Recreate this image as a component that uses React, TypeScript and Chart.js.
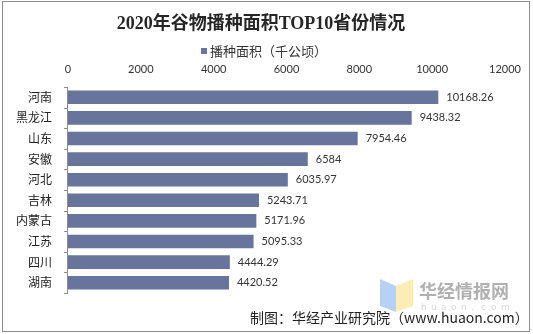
import React, { useEffect, useRef } from "react";
import { Chart, registerables } from "chart.js";

Chart.register(...registerables);

const TITLE = "2020年谷物播种面积TOP10省份情况";
const SERIES_NAME = "播种面积（千公顷）";
const FOOTER = "制图：华经产业研究院（www.huaon.com）";
const provinces = ["河南", "黑龙江", "山东", "安徽", "河北", "吉林", "内蒙古", "江苏", "四川", "湖南"];
const areas = [10168.26, 9438.32, 7954.46, 6584, 6035.97, 5243.71, 5171.96, 5095.33, 4444.29, 4420.52];
const xTicks = [0, 2000, 4000, 6000, 8000, 10000, 12000];

const BAR_COLOR = "#67749b";

const decorPlugin = {
  id: "decor",
  afterDraw(chart: any) {
    const ctx = chart.ctx as CanvasRenderingContext2D;
    ctx.save();
    // border
    ctx.strokeStyle = "#8c8c8c";
    ctx.lineWidth = 1;
    ctx.strokeRect(2.5, 1.5, 527, 330);
    // title
    ctx.fillStyle = "#262626";
    ctx.font = "bold 18px 'Liberation Serif', 'Noto Sans CJK SC', serif";
    ctx.textAlign = "center";
    ctx.textBaseline = "middle";
    ctx.fillText(TITLE, 261, 24);
    // legend
    ctx.font = "13px 'Noto Sans CJK SC', sans-serif";
    ctx.textAlign = "left";
    const tw = ctx.measureText(SERIES_NAME).width;
    const lx = 264 - (tw + 9) / 2;
    ctx.fillStyle = BAR_COLOR;
    ctx.fillRect(lx, 48, 6, 6);
    ctx.fillStyle = "#333";
    ctx.fillText(SERIES_NAME, lx + 9, 51);
    // value labels
    const meta = chart.getDatasetMeta(0);
    ctx.font = "11px Lato, 'Liberation Sans', sans-serif";
    ctx.fillStyle = "#333";
    ctx.textBaseline = "middle";
    meta.data.forEach((bar: any, i: number) => {
      ctx.fillText(String(areas[i]), bar.x + 8, bar.y);
    });
    // y axis line and ticks (on top of bars)
    const ys = chart.scales.y;
    const area = chart.chartArea;
    ctx.strokeStyle = "#8c8c8c";
    ctx.beginPath();
    ctx.moveTo(area.left - 0.5, area.top);
    ctx.lineTo(area.left - 0.5, area.bottom);
    const step = (area.bottom - area.top) / provinces.length;
    for (let i = 0; i <= provinces.length; i++) {
      const y = Math.round(area.top + i * step) + 0.5;
      ctx.moveTo(area.left - 4, y);
      ctx.lineTo(area.left, y);
    }
    ctx.stroke();
    void ys;
    // watermark
    ctx.globalAlpha = 0.75;
    ctx.fillStyle = "#9cc3f2";
    ctx.beginPath();
    ctx.moveTo(380, 279);
    ctx.lineTo(396, 286);
    ctx.lineTo(396, 312);
    ctx.lineTo(380, 306);
    ctx.closePath();
    ctx.fill();
    ctx.fillStyle = "#fbe6a0";
    ctx.beginPath();
    ctx.moveTo(396, 286);
    ctx.lineTo(413, 279);
    ctx.lineTo(413, 306);
    ctx.lineTo(396, 312);
    ctx.closePath();
    ctx.fill();
    ctx.globalAlpha = 1;
    ctx.fillStyle = "rgba(150,150,150,0.75)";
    ctx.font = "bold 18px 'Noto Sans CJK SC', sans-serif";
    ctx.textBaseline = "middle";
    ctx.fillText("华经情报网", 419, 291);
    ctx.fillStyle = "rgba(190,190,190,0.6)";
    ctx.font = "9px 'DejaVu Sans', sans-serif";
    const wm = "huaon.com";
    for (let i = 0; i < wm.length; i++) {
      ctx.fillText(wm[i], 421 + i * 10, 308);
    }
    // footer
    ctx.fillStyle = "#222";
    ctx.font = "14px 'Noto Sans CJK SC', sans-serif";
    ctx.textAlign = "left";
    ctx.fillText(FOOTER, 250, 318);
    ctx.restore();
  },
};

export default function App() {
  const ref = useRef<HTMLCanvasElement | null>(null);
  useEffect(() => {
    if (!ref.current) return;
    const chart = new Chart(ref.current, {
      type: "bar",
      data: {
        labels: provinces,
        datasets: [
          {
            label: SERIES_NAME,
            data: areas,
            backgroundColor: BAR_COLOR,
            barPercentage: 0.66,
            categoryPercentage: 1,
          },
        ],
      },
      options: {
        indexAxis: "y",
        responsive: false,
        animation: false,
        devicePixelRatio: 1,
        layout: { padding: { left: 0, top: 0, right: 28, bottom: 41 } },
        plugins: { legend: { display: false }, title: { display: false }, tooltip: { enabled: false } },
        scales: {
          x: {
            position: "top",
            min: 0,
            max: 12000,
            afterBuildTicks: (s: any) => {
              s.ticks = xTicks.map((v) => ({ value: v }));
            },
            afterFit: (s: any) => {
              s.height = 87;
            },
            grid: { display: false, drawTicks: false },
            border: { display: false },
            ticks: {
              padding: 11,
              color: "#333",
              font: { family: "Lato, 'Liberation Sans', sans-serif", size: 11 },
              maxRotation: 0,
              callback: (v: any) => String(v),
            },
          },
          y: {
            afterFit: (s: any) => {
              s.width = 68;
            },
            grid: { display: false, tickLength: 4 },
            border: { display: false },
            ticks: {
              padding: 12,
              color: "#222",
              font: { family: "'Noto Sans CJK SC', sans-serif", size: 12 },
            },
          },
        },
      },
      plugins: [decorPlugin],
    } as any);
    return () => chart.destroy();
  }, []);
  return (
    <div style={{ position: "fixed", left: 0, top: 0, width: 533, height: 334, background: "#fff" }}>
      <canvas ref={ref} width={533} height={334} style={{ display: "block" }} />
    </div>
  );
}
